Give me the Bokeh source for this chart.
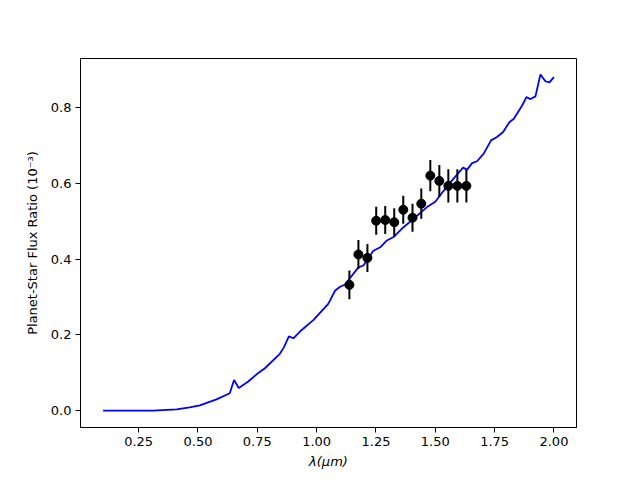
from bokeh.plotting import figure
from bokeh.models import Range1d, FixedTicker, ColumnDataSource
from bokeh.embed import file_html
from bokeh.resources import INLINE

# Model spectrum
model_wl = [0.10, 0.31, 0.41, 0.465, 0.508, 0.578, 0.634, 0.652, 0.672, 0.712, 0.747, 0.782,
            0.845, 0.862, 0.883, 0.902, 0.937, 0.986, 1.049, 1.078, 1.099, 1.120, 1.141, 1.176,
            1.197, 1.239, 1.268, 1.296, 1.324, 1.366, 1.408, 1.465, 1.500, 1.535, 1.577, 1.617,
            1.634, 1.655, 1.676, 1.704, 1.735, 1.760, 1.786, 1.812, 1.831, 1.866, 1.884, 1.901,
            1.922, 1.943, 1.964, 1.981, 2.00]
model_flux = [0.0, 0.0, 0.0035, 0.009, 0.014, 0.030, 0.046, 0.081, 0.060, 0.077, 0.096, 0.112,
              0.150, 0.167, 0.196, 0.191, 0.213, 0.239, 0.282, 0.317, 0.327, 0.333, 0.350, 0.378,
              0.383, 0.422, 0.431, 0.449, 0.458, 0.484, 0.506, 0.537, 0.551, 0.580, 0.612, 0.641,
              0.636, 0.653, 0.658, 0.678, 0.713, 0.722, 0.735, 0.761, 0.770, 0.805, 0.827, 0.822,
              0.829, 0.887, 0.869, 0.866, 0.880]

# Observed data
obs_wl = [1.138, 1.176, 1.214, 1.251, 1.289, 1.327, 1.365, 1.404, 1.441, 1.479, 1.517, 1.555, 1.593, 1.631]
obs_flux = [0.332, 0.412, 0.403, 0.501, 0.503, 0.497, 0.530, 0.509, 0.546, 0.620, 0.606, 0.593, 0.593, 0.593]
obs_err = [0.038, 0.038, 0.037, 0.037, 0.037, 0.037, 0.037, 0.037, 0.040, 0.041, 0.042, 0.044, 0.044, 0.044]

x_ticks = [0.25, 0.50, 0.75, 1.00, 1.25, 1.50, 1.75, 2.00]
y_ticks = [0.0, 0.2, 0.4, 0.6, 0.8]

p = figure(width=640, height=480, output_backend="svg", toolbar_location=None,
           x_range=Range1d(0.005, 2.095), y_range=Range1d(-0.0443, 0.929),
           min_border_left=80, min_border_right=64, min_border_top=58, min_border_bottom=53)
p.xgrid.visible = False
p.ygrid.visible = False
p.outline_line_color = "black"
p.outline_line_width = 1
p.background_fill_color = "white"
p.border_fill_color = "white"

p.line(model_wl, model_flux, line_color="#0000ff", line_width=1.8)

src = ColumnDataSource(dict(x=obs_wl, y=obs_flux,
                            lo=[f - e for f, e in zip(obs_flux, obs_err)],
                            hi=[f + e for f, e in zip(obs_flux, obs_err)]))
p.segment(x0="x", y0="lo", x1="x", y1="hi", source=src, line_color="black", line_width=2)
p.scatter(x="x", y="y", source=src, size=9, fill_color="black", line_color="black")

for ax in (p.xaxis[0], p.yaxis[0]):
    ax.axis_line_color = "black"
    ax.major_tick_line_color = "black"
    ax.major_tick_out = 5
    ax.major_tick_in = 0
    ax.minor_tick_line_color = None
    ax.major_label_text_font = "DejaVu Sans"
    ax.major_label_text_font_size = "13px"
    ax.major_label_text_color = "black"
    ax.axis_label_text_font = "DejaVu Sans"
    ax.axis_label_text_font_size = "13px"
    ax.axis_label_text_color = "black"
    ax.axis_label_text_font_style = "normal"

p.xaxis.ticker = FixedTicker(ticks=x_ticks)
p.yaxis.ticker = FixedTicker(ticks=y_ticks)
p.xaxis.major_label_overrides = {t: f"{t:.2f}" for t in x_ticks}
p.yaxis.major_label_overrides = {t: f"{t:.1f}" for t in y_ticks}
p.xaxis.axis_label = "λ(μm)"
p.xaxis.axis_label_text_font_style = "italic"
p.yaxis.axis_label = "Planet-Star Flux Ratio (10⁻³)"
p.xaxis.major_label_standoff = 4
p.yaxis.major_label_standoff = 4
p.xaxis.axis_label_standoff = 5
p.yaxis.axis_label_standoff = 8

open("out.html", "w").write(file_html(p, INLINE))
